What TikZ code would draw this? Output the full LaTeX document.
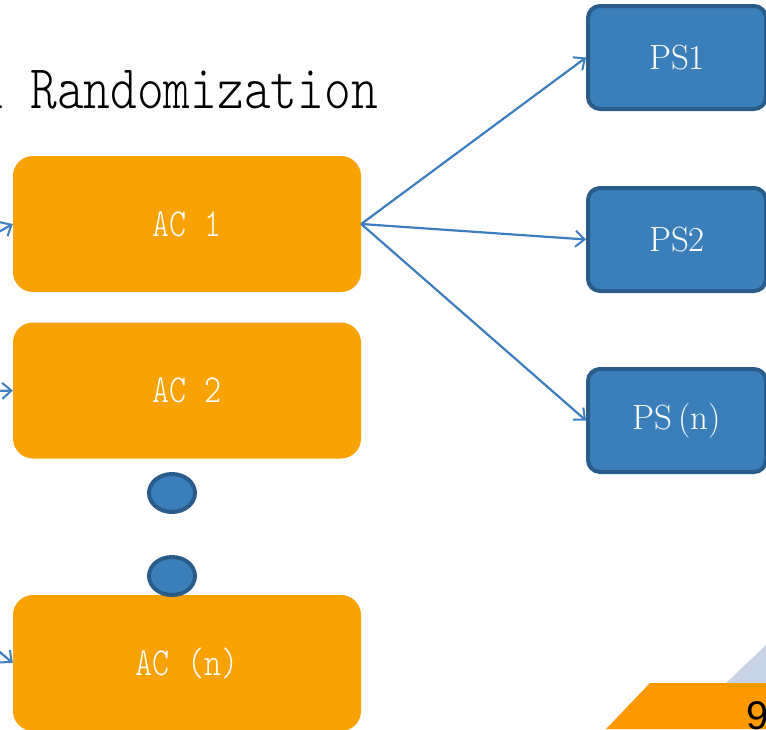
\documentclass[tikz,border=0pt]{standalone}
\usepackage{graphicx}
\usepackage{fontspec}
\newfontfamily\sansnum{Liberation Sans}
\usetikzlibrary{arrows.meta,shapes.geometric}
\definecolor{acorange}{HTML}{F9A203}
\definecolor{psblue}{HTML}{3A7FBA}
\definecolor{psedge}{HTML}{2A5C8A}
\definecolor{arrowblue}{HTML}{3C7EC0}
\definecolor{paleblue}{HTML}{C9D3E6}
\definecolor{cornerorange}{HTML}{FF9900}
\newcommand{\tallmono}[1]{\scalebox{1}[1.22]{#1}}
\tikzset{
  acbox/.style={rectangle, rounded corners=20pt, fill=acorange, draw=none,
    minimum width=348pt, minimum height=136pt, inner sep=0pt,
    text=white, font=\ttfamily\fontseries{l}\fontsize{32.5}{36}\selectfont},
  psbox/.style={rectangle, rounded corners=12pt, fill=psblue, draw=psedge, line width=4pt,
    minimum width=178pt, minimum height=103pt, inner sep=0pt,
    text=white, font=\rmfamily\fontsize{35}{38}\selectfont},
  dotnode/.style={ellipse, fill=psblue, draw=psedge, line width=4pt,
    minimum width=46pt, minimum height=38pt, inner sep=0pt},
  link/.style={draw=arrowblue, line width=2.2pt, -{Straight Barb[length=9pt,width=16pt,line width=2pt]}},
}
\begin{document}
\begin{tikzpicture}[x=1pt,y=-1pt]
\useasboundingbox (0,0) rectangle (766,729);
\clip (0,0) rectangle (766,729);
% corner decoration
\fill[paleblue] (726,683) -- (766,645) -- (766,683) -- cycle;
\fill[cornerorange] (606,729) -- (650,683) -- (766,683) -- (766,729) -- cycle;
\node[anchor=base west, inner sep=0pt, font=\sansnum\fontsize{40}{44}\selectfont] (pagenum) at (746,729) {9};
% title
\node[anchor=base west, inner sep=0pt, font=\ttfamily\fontseries{l}\fontsize{50.9}{56}\selectfont] (title) at (-23.3,108) {\tallmono{d Randomization}};
% AC boxes
\node[acbox] (ac1) at (187,224) {\tallmono{AC 1}};
\node[acbox] (ac2) at (187,390.5) {\tallmono{AC 2}};
\node[acbox] (acn) at (187,663) {\tallmono{AC (n)}};
% dots
\node[dotnode] (dot1) at (172,493) {};
\node[dotnode] (dot2) at (172,576) {};
% PS boxes
\node[psbox] (ps1) at (677,57.5) {PS1};
\node[psbox] (ps2) at (677,239.5) {PS2};
\node[psbox] (psn) at (677,420.5) {PS\,(n)};
% connectors
\coordinate (src) at (-300,400);
\draw[link] (src) -- (ac1.west);
\draw[link] (src) -- (ac2.west);
\draw[link] (src) -- (acn.west);
\draw[link] (ac1.east) -- (ps1.west);
\draw[link] (ac1.east) -- (ps2.west);
\draw[link] (ac1.east) -- (psn.west);
\end{tikzpicture}
\end{document}
